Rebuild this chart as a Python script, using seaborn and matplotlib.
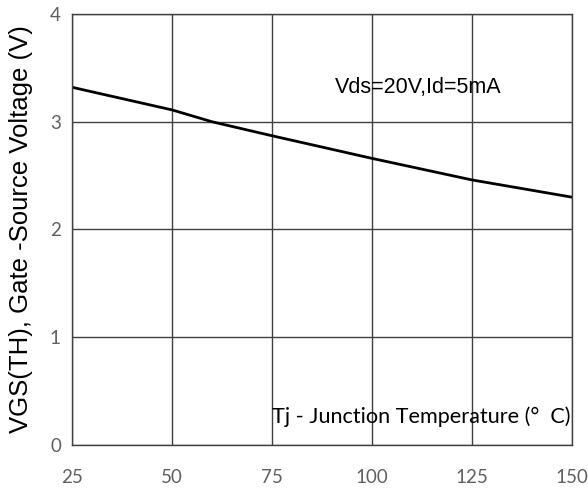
import matplotlib
matplotlib.use("Agg")
import matplotlib.pyplot as plt
import seaborn as sns
import pandas as pd

temps = [25, 50, 60, 75, 100, 125, 150]
vgs = [3.32, 3.11, 3.00, 2.87, 2.66, 2.46, 2.30]
x_ticks = [25, 50, 75, 100, 125, 150]
y_ticks = [0, 1, 2, 3, 4]

sns.set_style("white")
df = pd.DataFrame({"Tj": temps, "VGS": vgs})

fig = plt.figure(figsize=(5.88, 4.9), dpi=100)
ax = fig.add_axes([72/588, 45/490, 500/588, 431/490])
sns.lineplot(data=df, x="Tj", y="VGS", ax=ax, color="black", linewidth=2)

ax.set_xlim(25, 150)
ax.set_ylim(0, 4)
ax.set_xticks(x_ticks)
ax.set_yticks(y_ticks)
ax.grid(True, color="#404040", linewidth=1)
for s in ax.spines.values():
    s.set_color("#404040")
    s.set_linewidth(1)
ax.tick_params(axis="both", length=0, colors="#606060", labelsize=13.5)
ax.tick_params(axis="x", pad=17)
ax.tick_params(axis="y", pad=8)
for lbl in ax.get_xticklabels() + ax.get_yticklabels():
    lbl.set_fontfamily("Lato")

ax.set_xlabel("")
ax.set_ylabel("VGS(TH), Gate -Source Voltage (V)", fontsize=18.5,
              fontfamily="Liberation Sans", color="black", labelpad=12)

ax.text(111.5, 3.32, "Vds=20V,Id=5mA", fontsize=15.5, fontfamily="Liberation Sans",
        ha="center", va="center", color="black")
ax.text(149.5, 0.26, "Tj - Junction Temperature (\u00b0  C)", fontsize=15.6,
        fontfamily="Lato", ha="right", va="center", color="black")

fig.savefig("out.png", dpi=100)
